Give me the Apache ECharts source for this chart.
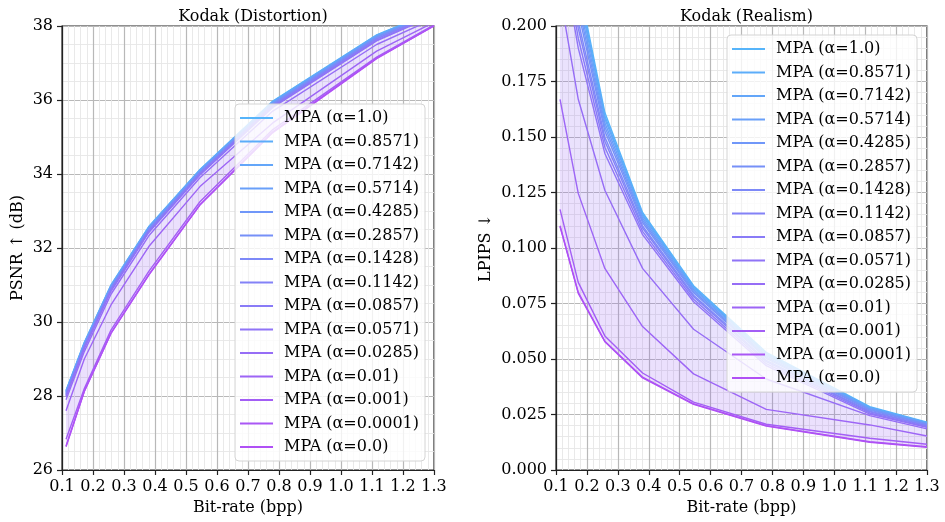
<!DOCTYPE html>
<html>
<head>
<meta charset="utf-8">
<script src="https://cdn.jsdelivr.net/npm/echarts@6/dist/echarts.min.js"></script>
<style>html,body{margin:0;padding:0;background:#fff}#c{width:945px;height:522px}</style>
</head>
<body>
<div id="c"></div>
<script>
// ---- data ----
const bitrates = [0.113, 0.172, 0.258, 0.38, 0.545, 0.78, 1.115, 1.3];
const alphaLabels = ['1.0','0.8571','0.7142','0.5714','0.4285','0.2857','0.1428','0.1142','0.0857','0.0571','0.0285','0.01','0.001','0.0001','0.0'];
const xTicks = ['0.1','0.2','0.3','0.4','0.5','0.6','0.7','0.8','0.9','1.0','1.1','1.2','1.3'];

// PSNR (dB), Kodak distortion
const psnr_1_0    = [28.15, 29.45, 31.00, 32.58, 34.12, 35.97, 37.76, 38.40];
const psnr_0_8571 = [28.14, 29.44, 30.99, 32.57, 34.11, 35.96, 37.75, 38.39];
const psnr_0_7142 = [28.12, 29.42, 30.97, 32.56, 34.10, 35.94, 37.74, 38.38];
const psnr_0_5714 = [28.11, 29.41, 30.96, 32.54, 34.08, 35.93, 37.72, 38.37];
const psnr_0_4285 = [28.09, 29.39, 30.94, 32.52, 34.07, 35.91, 37.70, 38.36];
const psnr_0_2857 = [28.07, 29.37, 30.92, 32.51, 34.05, 35.89, 37.69, 38.35];
const psnr_0_1428 = [28.05, 29.35, 30.90, 32.48, 34.03, 35.87, 37.66, 38.33];
const psnr_0_1142 = [28.03, 29.33, 30.88, 32.47, 34.02, 35.85, 37.65, 38.32];
const psnr_0_0857 = [28.01, 29.31, 30.86, 32.44, 33.99, 35.83, 37.62, 38.30];
const psnr_0_0571 = [27.98, 29.28, 30.83, 32.42, 33.97, 35.80, 37.60, 38.28];
const psnr_0_0285 = [27.90, 29.20, 30.75, 32.33, 33.90, 35.70, 37.50, 38.20];
const psnr_0_01   = [27.60, 29.00, 30.46, 32.04, 33.66, 35.38, 37.32, 38.10];
const psnr_0_001  = [26.83, 28.20, 29.78, 31.37, 33.25, 35.20, 37.16, 38.03];
const psnr_0_0001 = [26.65, 28.13, 29.70, 31.28, 33.17, 35.14, 37.13, 38.00];
const psnr_0_0    = [26.63, 28.12, 29.69, 31.27, 33.16, 35.12, 37.12, 38.00];

// LPIPS, Kodak realism
const lpips_1_0    = [0.2750, 0.2200, 0.1610, 0.1160, 0.0830, 0.0530, 0.0285, 0.0215];
const lpips_0_8571 = [0.2720, 0.2176, 0.1595, 0.1152, 0.0824, 0.0525, 0.0282, 0.0213];
const lpips_0_7142 = [0.2690, 0.2155, 0.1582, 0.1145, 0.0819, 0.0521, 0.0280, 0.0212];
const lpips_0_5714 = [0.2655, 0.2125, 0.1564, 0.1135, 0.0812, 0.0515, 0.0277, 0.0209];
const lpips_0_4285 = [0.2617, 0.2095, 0.1546, 0.1125, 0.0805, 0.0509, 0.0273, 0.0207];
const lpips_0_2857 = [0.2579, 0.2065, 0.1527, 0.1115, 0.0798, 0.0503, 0.0270, 0.0205];
const lpips_0_1428 = [0.2522, 0.2020, 0.1500, 0.1100, 0.0787, 0.0494, 0.0265, 0.0201];
const lpips_0_1142 = [0.2484, 0.1990, 0.1481, 0.1090, 0.0780, 0.0488, 0.0262, 0.0199];
const lpips_0_0857 = [0.2427, 0.1945, 0.1454, 0.1075, 0.0769, 0.0479, 0.0257, 0.0195];
const lpips_0_0571 = [0.2370, 0.1900, 0.1426, 0.1060, 0.0758, 0.0470, 0.0252, 0.0192];
const lpips_0_0285 = [0.2140, 0.1670, 0.1260, 0.0908, 0.0634, 0.0410, 0.0245, 0.0185];
const lpips_0_01   = [0.1670, 0.1246, 0.0908, 0.0646, 0.0433, 0.0273, 0.0203, 0.0153];
const lpips_0_001  = [0.1174, 0.0845, 0.0604, 0.0437, 0.0306, 0.0206, 0.0143, 0.0116];
const lpips_0_0001 = [0.1100, 0.0800, 0.0580, 0.0418, 0.0298, 0.0200, 0.0127, 0.0105];
const lpips_0_0    = [0.1096, 0.0796, 0.0578, 0.0415, 0.0296, 0.0198, 0.0125, 0.0102];

const psnrSeries = [psnr_1_0, psnr_0_8571, psnr_0_7142, psnr_0_5714, psnr_0_4285, psnr_0_2857, psnr_0_1428, psnr_0_1142, psnr_0_0857, psnr_0_0571, psnr_0_0285, psnr_0_01, psnr_0_001, psnr_0_0001, psnr_0_0];
const lpipsSeries = [lpips_1_0, lpips_0_8571, lpips_0_7142, lpips_0_5714, lpips_0_4285, lpips_0_2857, lpips_0_1428, lpips_0_1142, lpips_0_0857, lpips_0_0571, lpips_0_0285, lpips_0_01, lpips_0_001, lpips_0_0001, lpips_0_0];

const colors = ['#56b4fa','#5cadfa','#63a6f9','#699ff9','#7097f9','#7690f8','#7d89f8','#8382f7','#897bf7','#9074f7','#966df6','#9d65f6','#a35ef5','#aa57f5','#b050f5'];

// ---- chart ----
const FONT = 'DejaVu Serif';
const names = alphaLabels.map(a => 'MPA (α=' + a + ')');
const chart = echarts.init(document.getElementById('c'), null, {renderer: 'canvas'});

function xAxisDef(gi) {
  return {
    type: 'value', gridIndex: gi, min: 0.1, max: 1.3, interval: 0.1,
    name: 'Bit-rate (bpp)', nameLocation: 'middle', nameGap: 29,
    nameTextStyle: {fontFamily: FONT, fontSize: 16, color: '#000'},
    axisLine: {show: true, onZero: false, lineStyle: {color: '#222', width: 1.2}},
    axisTick: {show: true, length: 5, lineStyle: {color: '#222', width: 1.2}},
    axisLabel: {fontFamily: FONT, fontSize: 16, color: '#000', margin: 9,
      formatter: v => { const s = v.toFixed(1); return xTicks.indexOf(s) >= 0 ? s : ''; }},
    splitLine: {show: true, lineStyle: {color: '#b8b8b8', width: 1.2}},
    minorTick: {show: false, splitNumber: 5},
    minorSplitLine: {show: true, lineStyle: {color: '#e6e6e6', width: 0.9}}
  };
}
function yAxisDef(gi, min, max, interval, name, gap, dec, minorN) {
  return {
    type: 'value', gridIndex: gi, min, max, interval,
    name, nameLocation: 'middle', nameGap: gap,
    nameTextStyle: {fontFamily: FONT, fontSize: 16, color: '#000'},
    axisLine: {show: true, lineStyle: {color: '#222', width: 1.2}},
    axisTick: {show: true, length: 5, lineStyle: {color: '#222', width: 1.2}},
    axisLabel: {fontFamily: FONT, fontSize: 16, color: '#000', margin: 9, formatter: v => v.toFixed(dec)},
    splitLine: {show: true, lineStyle: {color: '#b8b8b8', width: 1.2}},
    minorTick: {show: false, splitNumber: minorN},
    minorSplitLine: {show: true, lineStyle: {color: '#e6e6e6', width: 0.9}}
  };
}

function fillSeries(data, gi) {
  const bands = [];
  for (let i = 0; i < data.length - 1; i++) bands.push([bitrates[0], data[i + 1][0], i]);
  return {
    type: 'custom', xAxisIndex: gi, yAxisIndex: gi, silent: true, z: 1,
    encode: {x: 0, y: 1},
    data: bands,
    renderItem: function (params, api) {
      const i = api.value(2);
      const up = data[i], lo = data[i + 1];
      const pts = [];
      for (let k = 0; k < bitrates.length; k++) pts.push(api.coord([bitrates[k], up[k]]));
      for (let k = bitrates.length - 1; k >= 0; k--) pts.push(api.coord([bitrates[k], lo[k]]));
      const cs = params.coordSys;
      return {
        type: 'polygon', shape: {points: pts},
        style: {fill: colors[i], opacity: 0.2},
        clipPath: {type: 'rect', shape: {x: cs.x, y: cs.y, width: cs.width, height: cs.height}}
      };
    }
  };
}

const series = [fillSeries(psnrSeries, 0), fillSeries(lpipsSeries, 1)];
psnrSeries.forEach((d, i) => series.push({
  type: 'line', name: names[i], xAxisIndex: 0, yAxisIndex: 0, z: 2,
  data: bitrates.map((x, k) => [x, d[k]]), symbol: 'none', showSymbol: false,
  lineStyle: {color: colors[i], width: 1.4}, itemStyle: {color: colors[i]}, clip: true
}));
lpipsSeries.forEach((d, i) => series.push({
  type: 'line', name: names[i], xAxisIndex: 1, yAxisIndex: 1, z: 2,
  data: bitrates.map((x, k) => [x, d[k]]), symbol: 'none', showSymbol: false,
  lineStyle: {color: colors[i], width: 1.4}, itemStyle: {color: colors[i]}, clip: true
}));

function legendDef(left, top) {
  return {
    data: names.map(n => ({name: n, icon: 'rect'})), orient: 'vertical', left, top,
    itemWidth: 33, itemHeight: 2, itemGap: 7.5,
    padding: [6, 6, 6, 5],
    backgroundColor: 'rgba(255,255,255,0.8)', borderColor: '#d4d4d4', borderWidth: 1, borderRadius: 4,
    textStyle: {fontFamily: FONT, fontSize: 16, color: '#000', padding: [0, 0, 0, 6]},
    selectedMode: false, z: 10
  };
}

chart.setOption({
  animation: false,
  backgroundColor: '#fff',
  title: [
    {text: 'Kodak (Distortion)', left: 248, top: 4, textAlign: 'center',
     textStyle: {fontFamily: FONT, fontSize: 16, fontWeight: 'normal', color: '#000'}},
    {text: 'Kodak (Realism)', left: 741.5, top: 4, textAlign: 'center',
     textStyle: {fontFamily: FONT, fontSize: 16, fontWeight: 'normal', color: '#000'}}
  ],
  grid: [
    {left: 62, top: 26, width: 372, height: 444, show: true, borderColor: '#222', borderWidth: 1.2, backgroundColor: 'transparent'},
    {left: 556, top: 26, width: 371, height: 444, show: true, borderColor: '#222', borderWidth: 1.2, backgroundColor: 'transparent'}
  ],
  xAxis: [xAxisDef(0), xAxisDef(1)],
  yAxis: [
    yAxisDef(0, 26, 38, 2, 'PSNR ↑ (dB)', 36, 0, 4),
    yAxisDef(1, 0, 0.2, 0.025, 'LPIPS ↓', 62, 3, 5)
  ],
  legend: [legendDef(235, 104), legendDef(727, 35)],
  series
});
</script>
</body>
</html>
